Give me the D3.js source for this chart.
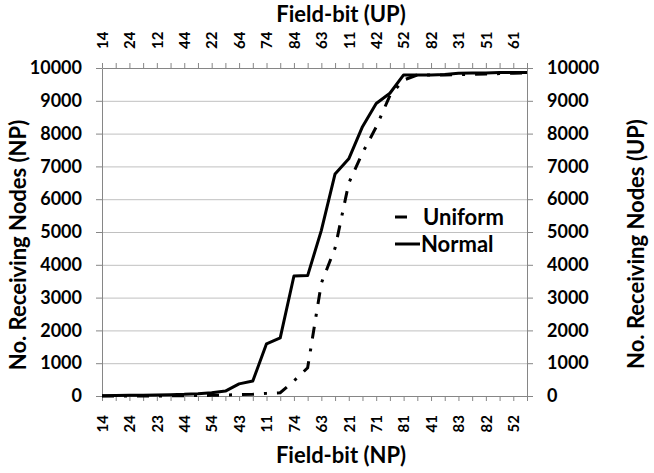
<!DOCTYPE html>
<html>
<head>
<meta charset="utf-8">
<script src="https://cdn.jsdelivr.net/npm/d3@7"></script>
<style>
	body { margin: 0; background: #fff; }
	svg { display: block; }
</style>
</head>
<body>
<script>
// tick labels (only every other category is labelled in the chart)
const npLabels = ["14", "24", "23", "44", "54", "43", "11", "74", "63", "21", "71", "81", "41", "83", "82", "52"];
const upLabels = ["14", "24", "12", "44", "22", "64", "74", "84", "63", "11", "42", "52", "82", "31", "51", "61"];

// No. receiving nodes, one value per category
const normalNP = [10, 15, 20, 25, 30, 40, 50, 70, 100, 150, 370, 455, 1590, 1770, 3660, 3670,
	5050, 6770, 7230, 8210, 8920, 9230, 9790, 9790, 9790, 9800, 9840, 9850, 9850, 9860, 9860, 9860];
const uniformUP = [0, 0, 0, 0, 0, 5, 10, 15, 20, 30, 40, 50, 80, 100, 460, 860,
	3440, 4510, 6490, 7410, 8200, 9160, 9630, 9790, 9790, 9790, 9800, 9810, 9820, 9830, 9840, 9850];

const yTicks = d3.range(0, 10001, 1000);

const width = 654, height = 473;
const margin = {top: 68, right: 127, bottom: 77, left: 102};
const font = "Lato, 'Open Sans', sans-serif";
const axisColor = "#868686";
const gridColor = "#c0c0c0";

const x = d3.scaleLinear()
	.domain([0, normalNP.length - 1])
	.range([margin.left, width - margin.right]);

const y = d3.scaleLinear()
	.domain([0, 10000])
	.range([height - margin.bottom, margin.top]);

const svg = d3.select("body").append("svg")
	.attr("width", width)
	.attr("height", height)
	.attr("font-family", font);

// gridlines
svg.append("g")
	.selectAll("line")
	.data(yTicks.slice(1, -1))
	.join("line")
		.attr("x1", margin.left)
		.attr("x2", width - margin.right)
		.attr("y1", d => y(d) + 0.5)
		.attr("y2", d => y(d) + 0.5)
		.attr("stroke", gridColor);

const styleAxis = g => g
	.call(g => g.selectAll(".domain, .tick line").attr("stroke", axisColor))
	.call(g => g.selectAll("text").attr("fill", "#000").attr("font-family", font));

const catTicks = d3.range(normalNP.length);

// bottom (NP)
svg.append("g")
	.attr("transform", `translate(0,${height - margin.bottom})`)
	.call(d3.axisBottom(x).tickValues(catTicks).tickSize(5).tickSizeOuter(0)
		.tickFormat(i => i % 2 ? "" : npLabels[i / 2]))
	.call(styleAxis)
	.call(g => g.selectAll("text")
		.attr("transform", "rotate(-90)")
		.attr("x", -19)
		.attr("y", 0)
		.attr("dy", "0.35em")
		.attr("text-anchor", "end")
		.attr("font-size", 15)
		.attr("font-weight", "bold"));

// top (UP)
svg.append("g")
	.attr("transform", `translate(0,${margin.top})`)
	.call(d3.axisTop(x).tickValues(catTicks).tickSize(5).tickSizeOuter(0)
		.tickFormat(i => i % 2 ? "" : upLabels[i / 2]))
	.call(styleAxis)
	.call(g => g.selectAll("text")
		.attr("transform", "rotate(-90)")
		.attr("x", 19)
		.attr("y", 0)
		.attr("dy", "0.35em")
		.attr("text-anchor", "start")
		.attr("font-size", 15)
		.attr("font-weight", "bold"));

// left (NP)
svg.append("g")
	.attr("transform", `translate(${margin.left},0)`)
	.call(d3.axisLeft(y).tickValues(yTicks).tickFormat(d3.format("d"))
		.tickSize(6).tickSizeOuter(0).tickPadding(14))
	.call(styleAxis)
	.call(g => g.selectAll("text").attr("font-size", 18).attr("font-weight", "bold"));

// right (UP)
svg.append("g")
	.attr("transform", `translate(${width - margin.right},0)`)
	.call(d3.axisRight(y).tickValues(yTicks).tickFormat(d3.format("d"))
		.tickSize(6).tickSizeOuter(0).tickPadding(14))
	.call(styleAxis)
	.call(g => g.selectAll("text").attr("font-size", 18).attr("font-weight", "bold"));

const line = d3.line()
	.x((d, i) => x(i))
	.y(d => y(d));

svg.append("path")
	.datum(normalNP)
	.attr("fill", "none")
	.attr("stroke", "#000")
	.attr("stroke-width", 3)
	.attr("stroke-linejoin", "round")
	.attr("d", line);

svg.append("path")
	.datum(uniformUP)
	.attr("fill", "none")
	.attr("stroke", "#000")
	.attr("stroke-width", 3)
	.attr("stroke-dasharray", "12,10,3,10")
	.attr("d", line);

// legend
const legend = svg.append("g")
	.attr("font-size", 22)
	.attr("font-weight", "bold");

legend.append("line")
	.attr("x1", 395).attr("x2", 407)
	.attr("y1", 217).attr("y2", 217)
	.attr("stroke", "#000").attr("stroke-width", 3);
legend.append("text")
	.attr("x", 423).attr("y", 217).attr("dy", "0.35em")
	.text("Uniform");

legend.append("line")
	.attr("x1", 395).attr("x2", 420)
	.attr("y1", 244).attr("y2", 244)
	.attr("stroke", "#000").attr("stroke-width", 3);
legend.append("text")
	.attr("x", 421).attr("y", 244).attr("dy", "0.35em")
	.text("Normal");

// titles
const titles = svg.append("g")
	.attr("font-size", 22)
	.attr("font-weight", "bold")
	.attr("text-anchor", "middle");

titles.append("text")
	.attr("x", 341)
	.attr("y", 22)
	.text("Field-bit (UP)");

titles.append("text")
	.attr("x", 341)
	.attr("y", 463)
	.text("Field-bit (NP)");

titles.append("text")
	.attr("transform", "translate(26,245) rotate(-90)")
	.text("No. Receiving Nodes (NP)");

titles.append("text")
	.attr("transform", "translate(644,244) rotate(-90)")
	.text("No. Receiving Nodes (UP)");
</script>
</body>
</html>
